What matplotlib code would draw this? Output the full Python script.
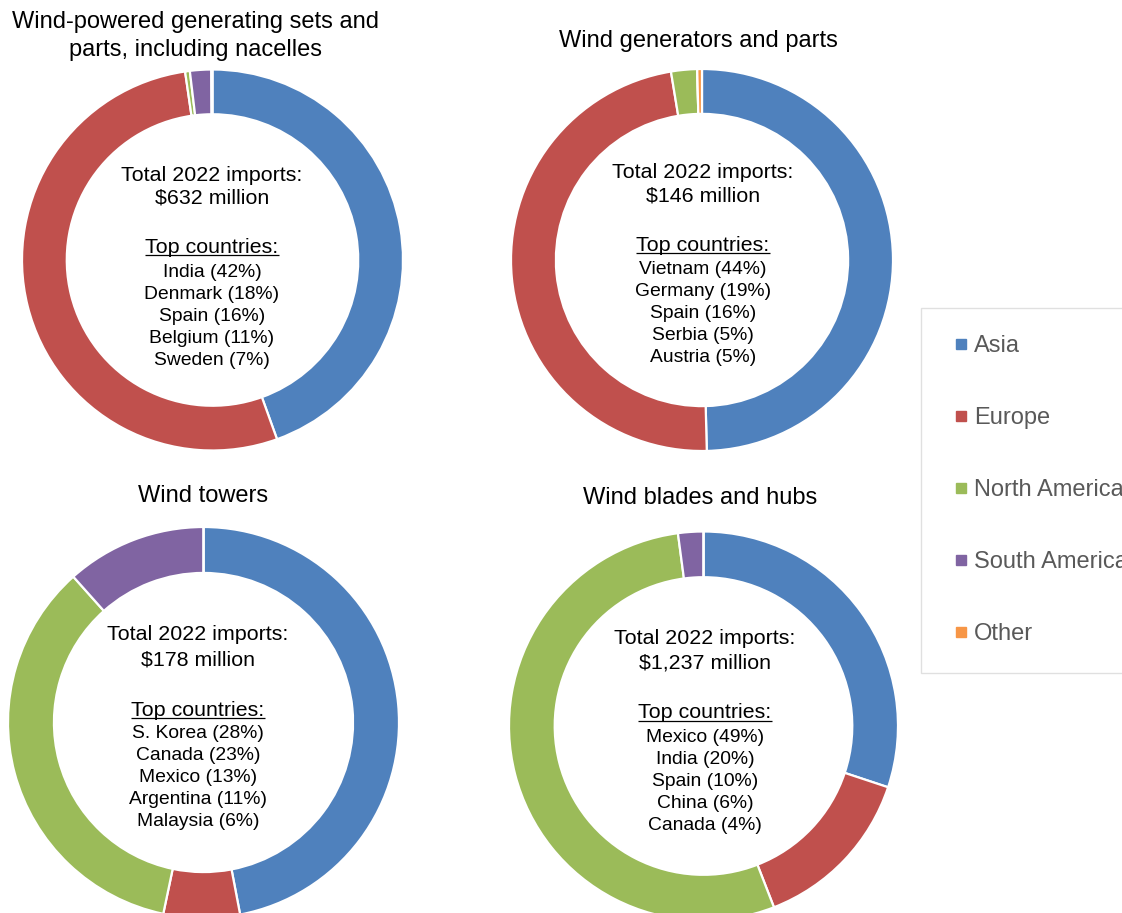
import matplotlib
matplotlib.use("Agg")
import matplotlib.pyplot as plt
from matplotlib.lines import Line2D

W, H = 1122, 913

regions = ["Asia", "Europe", "North America", "South America", "Other"]
colors = ["#4F81BD", "#C0504D", "#9BBB59", "#8064A2", "#F79646"]

# import shares by region (%), clockwise from 12 o'clock
sets_shares = [44.5, 53.2, 0.4, 1.8, 0.1]
generators_shares = [49.6, 47.8, 2.2, 0.0, 0.4]
towers_shares = [47.0, 6.3, 35.1, 11.6, 0.0]
blades_shares = [30.1, 14.0, 53.8, 2.1, 0.0]

titles = [
    "Wind-powered generating sets and\nparts, including nacelles",
    "Wind generators and parts",
    "Wind towers",
    "Wind blades and hubs",
]
totals = ["$632 million", "$146 million", "$178 million", "$1,237 million"]
top_countries = [
    ["India (42%)", "Denmark (18%)", "Spain (16%)", "Belgium (11%)", "Sweden (7%)"],
    ["Vietnam (44%)", "Germany (19%)", "Spain (16%)", "Serbia (5%)", "Austria (5%)"],
    ["S. Korea (28%)", "Canada (23%)", "Mexico (13%)", "Argentina (11%)", "Malaysia (6%)"],
    ["Mexico (49%)", "India (20%)", "Spain (10%)", "China (6%)", "Canada (4%)"],
]
shares = [sets_shares, generators_shares, towers_shares, blades_shares]

# layout in pixels (measured from the top edge)
centers = [(212.5, 260), (702, 260), (203.5, 722.5), (703.5, 726)]
radii = [190.5, 191, 195.5, 194.5]
title_pos = [(196, 36), (698, 41), (203, 496), (700, 498)]
text_pos = [(212, 175), (703, 172), (198, 635), (705, 638)]
text_gap = [(0, 23, 72, 97, 22), (0, 24, 73, 97, 22), (0, 25, 75, 98, 22.2), (0, 25, 75, 100, 22)]

plt.rcParams["font.family"] = ["Liberation Sans", "DejaVu Sans"]

fig = plt.figure(figsize=(W / 100, H / 100), dpi=100)
ax = fig.add_axes([0, 0, 1, 1])

wedges_all = []
for vals, (cx, cy), r in zip(shares, centers, radii):
    wedges, _ = ax.pie(
        vals, colors=colors, startangle=90, counterclock=False,
        center=(cx, H - cy), radius=r,
        wedgeprops=dict(width=r * 0.235, edgecolor="white", linewidth=1.6),
    )
    wedges_all.append(wedges)

ax.set_xlim(0, W)
ax.set_ylim(0, H)
ax.set_aspect("equal")
ax.axis("off")

for title, (tx, ty) in zip(titles, title_pos):
    ax.text(tx, H - ty, title, ha="center", va="center", fontsize=17,
            linespacing=1.32, color="black")

underlined = []
for i, (tx, ty) in enumerate(text_pos):
    g = text_gap[i]
    ax.text(tx, H - ty, "Total 2022 imports:", ha="center", va="center", fontsize=15.4)
    ax.text(tx, H - (ty + g[1]), totals[i], ha="center", va="center", fontsize=15.4)
    t = ax.text(tx, H - (ty + g[2]), "Top countries:", ha="center", va="center", fontsize=15.4)
    underlined.append(t)
    for k, name in enumerate(top_countries[i]):
        ax.text(tx, H - (ty + g[3] + k * g[4]), name, ha="center", va="center", fontsize=13.9)

# matplotlib has no underline style, so draw a rule under each heading
fig.canvas.draw()
renderer = fig.canvas.get_renderer()
for t in underlined:
    bb = t.get_window_extent(renderer)
    ax.plot([bb.x0, bb.x1], [bb.y0 + 1.5, bb.y0 + 1.5], color="black", lw=0.9,
            solid_capstyle="butt")

handles = [Line2D([], [], marker="s", linestyle="none", markersize=6.5,
                  markerfacecolor=c, markeredgecolor=c) for c in colors]
leg = fig.legend(
    handles, regions, loc="upper left",
    bbox_to_anchor=(921 / W, 1 - 308 / H), borderaxespad=0,
    fontsize=17, frameon=True, fancybox=False, borderpad=1.15,
    handlelength=1.1, handletextpad=0.0, labelspacing=2.12,
    labelcolor="#595959",
)
leg.get_frame().set_edgecolor("#d9d9d9")
leg.get_frame().set_linewidth(1.0)

fig.savefig("out.png", dpi=100)
